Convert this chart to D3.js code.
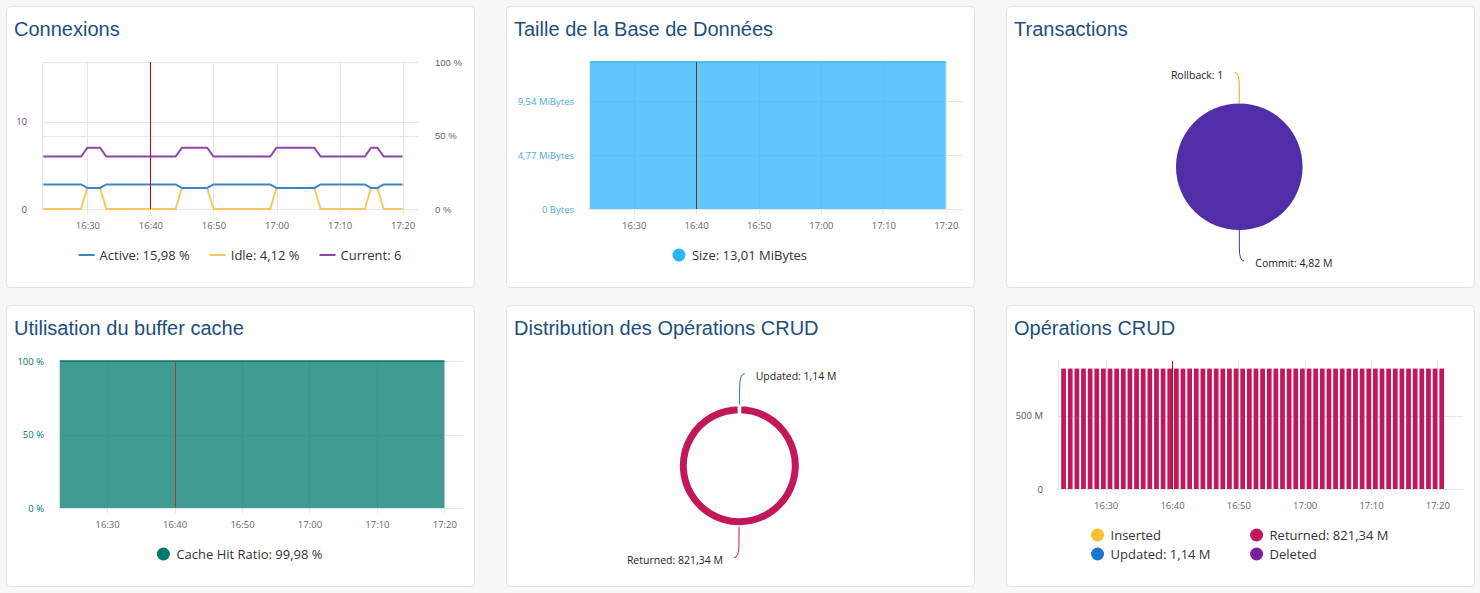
<!DOCTYPE html>
<html>
<head>
<meta charset="utf-8">
<script src="https://cdn.jsdelivr.net/npm/d3@7"></script>
<style>
  body { margin: 0; background: #f7f7f7; }
  svg { display: block; font-family: "Open Sans", sans-serif; }
</style>
</head>
<body>
<svg id="board" width="1480" height="593"></svg>
<script>
// one point per minute, 16:23 -> 17:20
var minutes = [
  "16:23","16:24","16:25","16:26","16:27","16:28","16:29","16:30","16:31","16:32",
  "16:33","16:34","16:35","16:36","16:37","16:38","16:39","16:40","16:41","16:42",
  "16:43","16:44","16:45","16:46","16:47","16:48","16:49","16:50","16:51","16:52",
  "16:53","16:54","16:55","16:56","16:57","16:58","16:59","17:00","17:01","17:02",
  "17:03","17:04","17:05","17:06","17:07","17:08","17:09","17:10","17:11","17:12",
  "17:13","17:14","17:15","17:16","17:17","17:18","17:19","17:20"
];

var currentConn = [
  6,6,6,6,6,6,6,7,7,7,
  6,6,6,6,6,6,6,6,6,6,
  6,6,7,7,7,7,7,6,6,6,
  6,6,6,6,6,6,6,7,7,7,
  7,7,7,7,6,6,6,6,6,6,
  6,6,7,7,6,6,6,6
];
var activePct = [
  16.67,16.67,16.67,16.67,16.67,16.67,16.67,14.29,14.29,14.29,
  16.67,16.67,16.67,16.67,16.67,16.67,16.67,16.67,16.67,16.67,
  16.67,16.67,14.29,14.29,14.29,14.29,14.29,16.67,16.67,16.67,
  16.67,16.67,16.67,16.67,16.67,16.67,16.67,14.29,14.29,14.29,
  14.29,14.29,14.29,14.29,16.67,16.67,16.67,16.67,16.67,16.67,
  16.67,16.67,14.29,14.29,16.67,16.67,16.67,16.67
];
var idlePct = [
  0,0,0,0,0,0,0,14.29,14.29,14.29,
  0,0,0,0,0,0,0,0,0,0,
  0,0,14.29,14.29,14.29,14.29,14.29,0,0,0,
  0,0,0,0,0,0,0,14.29,14.29,14.29,
  14.29,14.29,14.29,14.29,0,0,0,0,0,0,
  0,0,14.29,14.29,0,0,0,0
];

// MiB
var dbSize = [
  13.01,13.01,13.01,13.01,13.01,13.01,13.01,13.01,13.01,13.01,
  13.01,13.01,13.01,13.01,13.01,13.01,13.01,13.01,13.01,13.01,
  13.01,13.01,13.01,13.01,13.01,13.01,13.01,13.01,13.01,13.01,
  13.01,13.01,13.01,13.01,13.01,13.01,13.01,13.01,13.01,13.01,
  13.01,13.01,13.01,13.01,13.01,13.01,13.01,13.01,13.01,13.01,
  13.01,13.01,13.01,13.01,13.01,13.01,13.01,13.01
];

var cacheHit = [
  99.98,99.98,99.98,99.98,99.98,99.98,99.98,99.98,99.98,99.98,
  99.98,99.98,99.98,99.98,99.98,99.98,99.98,99.98,99.98,99.98,
  99.98,99.98,99.98,99.98,99.98,99.98,99.98,99.98,99.98,99.98,
  99.98,99.98,99.98,99.98,99.98,99.98,99.98,99.98,99.98,99.98,
  99.98,99.98,99.98,99.98,99.98,99.98,99.98,99.98,99.98,99.98,
  99.98,99.98,99.98,99.98,99.98,99.98,99.98,99.98
];

// millions of rows returned per minute
var returnedOps = [
  821.3,821.3,821.3,821.3,821.3,821.3,821.3,821.3,821.3,821.3,
  821.3,821.3,821.3,821.3,821.3,821.3,821.3,821.3,821.3,821.3,
  821.3,821.3,821.3,821.3,821.3,821.3,821.3,821.3,821.3,821.3,
  821.3,821.3,821.3,821.3,821.3,821.3,821.3,821.3,821.3,821.3,
  821.3,821.3,821.3,821.3,821.3,821.3,821.3,821.3,821.3,821.3,
  821.3,821.3,821.3,821.3,821.3,821.3,821.3,821.34
];

var txNames = ["Commit", "Rollback"];
var txValues = [4820000, 1];
var txLabels = ["Commit: 4,82 M", "Rollback: 1"];
var txColors = ["#512da8", "#ffa000"];

var crudNames = ["Inserted", "Updated", "Returned", "Deleted"];
var crudTotals = [0, 1.14, 821.34, 0];
var crudLabels = ["Inserted", "Updated: 1,14 M", "Returned: 821,34 M", "Deleted"];
var crudColors = ["#fbc02d", "#1976d2", "#c2185b", "#7b1fa2"];

var connNames = ["Active: 15,98 %", "Idle: 4,12 %", "Current: 6"];
var connColors = ["#3d85c6", "#f6c85f", "#8e44ad"];

var nowMark = "16:40";

var parseT = d3.timeParse("%H:%M");
var fmtT = d3.timeFormat("%H:%M");
var times = minutes.map(parseT);
var now = parseT(nowMark);
var gridCol = "#e6e6e6";
var legendSize = 13;

var svg = d3.select("#board");

function card(x, y, title) {
  var g = svg.append("g");
  g.append("rect").attr("x", x + 0.5).attr("y", y + 0.5).attr("width", 468).attr("height", 281)
    .attr("rx", 4).attr("fill", "#fff").attr("stroke", "#e2e2e2");
  g.append("text").attr("x", x + 8).attr("y", y + 30).text(title)
    .attr("font-family", "Liberation Sans, Arial, sans-serif").attr("font-size", 20).attr("fill", "#1d4f7c");
  return g;
}

// common frame: x grid + bottom axis + left edge
function frame(g, x, y, box, yTicks) {
  var ticks = x.ticks(d3.timeMinute.every(10));
  g.append("g").selectAll("line").data(ticks).enter().append("line")
    .attr("x1", d => Math.round(x(d)) + 0.5).attr("x2", d => Math.round(x(d)) + 0.5)
    .attr("y1", box.t).attr("y2", box.b + 5).attr("stroke", gridCol);
  g.append("g").selectAll("line").data(yTicks).enter().append("line")
    .attr("x1", box.l).attr("x2", box.r)
    .attr("y1", d => Math.round(y(d)) + 0.5).attr("y2", d => Math.round(y(d)) + 0.5)
    .attr("stroke", gridCol);
  g.append("line").attr("x1", box.l + 0.5).attr("x2", box.l + 0.5).attr("y1", box.t).attr("y2", box.b)
    .attr("stroke", gridCol);
  var ax = g.append("g").attr("transform", `translate(0,${box.b})`)
    .call(d3.axisBottom(x).ticks(d3.timeMinute.every(10)).tickFormat(fmtT).tickSize(0).tickPadding(13));
  ax.select(".domain").remove();
  ax.selectAll("text").attr("font-family", "Open Sans").attr("font-size", 9.5).attr("fill", "#666");
}

function leftAxis(g, y, box, vals, fmt, color) {
  var ax = g.append("g").attr("transform", `translate(${box.l},0)`)
    .call(d3.axisLeft(y).tickValues(vals).tickFormat(fmt).tickSize(0).tickPadding(15));
  ax.select(".domain").remove();
  ax.selectAll("text").attr("font-family", "Open Sans").attr("font-size", 9.5).attr("fill", color);
}

function nowLine(g, x, box, color) {
  g.append("line").attr("x1", Math.round(x(now)) + 0.5).attr("x2", Math.round(x(now)) + 0.5)
    .attr("y1", box.t).attr("y2", box.b).attr("stroke", color).attr("stroke-width", 1);
}

// legend laid out from measured text widths, centred on cx
function legend(g, cx, cy, items, kind) {
  var lg = g.append("g");
  var xs = 0;
  items.forEach(function (it) {
    var ig = lg.append("g").attr("transform", `translate(${xs},0)`);
    var tx;
    if (kind === "line") {
      ig.append("line").attr("x1", 0).attr("x2", 16).attr("y1", 0).attr("y2", 0)
        .attr("stroke", it.color).attr("stroke-width", 2);
      tx = 21;
    } else {
      ig.append("circle").attr("cx", 6).attr("cy", 0).attr("r", 6.5).attr("fill", it.color);
      tx = 19;
    }
    var t = ig.append("text").attr("x", tx).attr("y", 0).attr("dy", "0.35em").text(it.label)
      .attr("font-size", legendSize).attr("fill", "#333");
    xs += tx + t.node().getComputedTextLength() + 20;
  });
  var w = xs - 20;
  lg.attr("transform", `translate(${cx - w / 2},${cy})`);
}

// pie / donut with curved leader lines
function pieChart(g, cx, cy, rOut, rIn, values, colors, labels, stroke) {
  var pie = d3.pie().sort(null).value(d => d);
  var arcs = pie(values);
  var arc = d3.arc().innerRadius(rIn).outerRadius(rOut);
  // a slice that is a whole turn but for a hair is drawn as a full turn,
  // otherwise the svg arc has identical end points and vanishes
  var drawArc = function (d) {
    if (d.endAngle - d.startAngle > 2 * Math.PI - 1e-3)
      return arc({ startAngle: d.startAngle, endAngle: d.startAngle + 2 * Math.PI });
    return arc(d);
  };
  var pg = g.append("g").attr("transform", `translate(${cx},${cy})`);
  pg.selectAll("path.slice").data(arcs).enter().append("path").attr("class", "slice")
    .attr("d", drawArc).attr("fill", (d, i) => colors[i])
    .attr("stroke", stroke ? "#fff" : "none").attr("stroke-width", stroke ? 3 : 0);
  var shown = arcs.map((a, i) => ({ a: a, i: i })).filter(d => d.a.value > 0);
  shown.forEach(function (d) {
    var m = (d.a.startAngle + d.a.endAngle) / 2;
    var s = Math.sin(m) >= 0 ? 1 : -1;
    var pt = r => [Math.sin(m) * r, -Math.cos(m) * r];
    var p0 = pt(rOut), p1 = pt(rOut + 18), c = pt(rOut + 31);
    var p2 = [c[0] + s * 5, c[1]];
    pg.append("path").attr("d", `M${p0}L${p1}Q${c} ${p2}`).attr("fill", "none")
      .attr("stroke", colors[d.i]).attr("stroke-width", 1);
    pg.append("text").attr("x", p2[0] + s * 11).attr("y", p2[1] + 2.5).attr("dy", "0.35em")
      .attr("text-anchor", s > 0 ? "start" : "end").attr("font-size", 10.5).attr("fill", "#222")
      .text(labels[d.i]);
  });
}

// ---------- Connexions ----------
(function () {
  var g = card(6, 6, "Connexions");
  var box = { l: 42, r: 419, t: 62, b: 209 };
  var x = d3.scaleTime().domain([d3.timeSecond.offset(parseT("16:22"), 48), d3.timeSecond.offset(parseT("17:22"), 36)]).range([box.l, box.r]);
  var yL = d3.scaleLinear().domain([0, 16.8]).range([box.b, box.t]);
  var yR = d3.scaleLinear().domain([0, 100]).range([box.b, box.t]);
  frame(g, x, yR, box, [0, 50, 100]);
  g.append("g").selectAll("line").data([10]).enter().append("line")
    .attr("x1", box.l).attr("x2", box.r)
    .attr("y1", d => Math.round(yL(d)) + 0.5).attr("y2", d => Math.round(yL(d)) + 0.5).attr("stroke", gridCol);
  leftAxis(g, yL, box, [0, 10], d3.format("d"), "#7b3f8c");
  var axR = g.append("g").attr("transform", `translate(${box.r},0)`)
    .call(d3.axisRight(yR).tickValues([0, 50, 100]).tickFormat(d => d + " %").tickSize(0).tickPadding(16));
  axR.select(".domain").remove();
  axR.selectAll("text").attr("font-size", 9.5).attr("fill", "#666");

  var lineR = d3.line().x((d, i) => x(times[i])).y(d => yR(d));
  var lineL = d3.line().x((d, i) => x(times[i])).y(d => yL(d));
  g.append("path").datum(idlePct).attr("d", lineR).attr("fill", "none").attr("stroke", connColors[1]).attr("stroke-width", 2);
  g.append("path").datum(activePct).attr("d", lineR).attr("fill", "none").attr("stroke", connColors[0]).attr("stroke-width", 2);
  g.append("path").datum(currentConn).attr("d", lineL).attr("fill", "none").attr("stroke", connColors[2]).attr("stroke-width", 2);
  nowLine(g, x, box, "#d40000");
  legend(g, 240, 255, connNames.map((n, i) => ({ label: n, color: connColors[i] })), "line");
})();

// ---------- Taille de la Base de Données ----------
(function () {
  var g = card(506, 6, "Taille de la Base de Données");
  var box = { l: 589, r: 963, t: 62, b: 209 };
  var MiB = 1048576;
  var x = d3.scaleTime().domain([d3.timeSecond.offset(parseT("16:22"), 50), d3.timeSecond.offset(parseT("17:22"), 46)]).range([box.l, box.r]);
  var y = d3.scaleLinear().domain([0, d3.max(dbSize) * MiB]).range([box.b, box.t]);
  var yt = [0, 5e6, 1e7];
  frame(g, x, y, box, yt);
  leftAxis(g, y, box, yt, d => d === 0 ? "0 Bytes" : (d / MiB).toFixed(2).replace(".", ",") + " MiBytes", "#4ba9e0");
  var area = d3.area().x((d, i) => x(times[i])).y0(box.b).y1(d => y(d * MiB));
  g.append("path").datum(dbSize).attr("d", area).attr("fill", "#29b6f6").attr("fill-opacity", 0.75);
  g.append("path").datum(dbSize).attr("d", area.lineY1()).attr("fill", "none").attr("stroke", "#29b6f6").attr("stroke-width", 1.5);
  nowLine(g, x, box, "#8b1e3c");
  legend(g, 740, 255, [{ label: "Size: 13,01 MiBytes", color: "#29b6f6" }], "dot");
})();

// ---------- Transactions ----------
(function () {
  var g = card(1006, 6, "Transactions");
  pieChart(g, 1239.3, 166.7, 63.3, 0, txValues, txColors, txLabels, false);
})();

// ---------- Utilisation du buffer cache ----------
(function () {
  var g = card(6, 305, "Utilisation du buffer cache");
  var box = { l: 59, r: 463, t: 361, b: 508 };
  var x = d3.scaleTime().domain([d3.timeSecond.offset(parseT("16:22"), 52), d3.timeSecond.offset(parseT("17:22"), 46)]).range([box.l, box.r]);
  var y = d3.scaleLinear().domain([0, 100]).range([box.b, box.t]);
  frame(g, x, y, box, [0, 50, 100]);
  leftAxis(g, y, box, [0, 50, 100], d => d + " %", "#00796b");
  var area = d3.area().x((d, i) => x(times[i])).y0(box.b).y1(d => y(d));
  g.append("path").datum(cacheHit).attr("d", area).attr("fill", "#00796b").attr("fill-opacity", 0.75);
  g.append("path").datum(cacheHit).attr("d", area.lineY1()).attr("fill", "none").attr("stroke", "#00796b").attr("stroke-width", 1.5);
  nowLine(g, x, box, "#b23a30");
  legend(g, 240, 554, [{ label: "Cache Hit Ratio: 99,98 %", color: "#00796b" }], "dot");
})();

// ---------- Distribution des Opérations CRUD ----------
(function () {
  var g = card(506, 305, "Distribution des Opérations CRUD");
  pieChart(g, 739.3, 465.7, 61, 51, crudTotals, crudColors, crudLabels, true);
})();

// ---------- Opérations CRUD ----------
(function () {
  var g = card(1006, 305, "Opérations CRUD");
  var box = { l: 1058, r: 1463, t: 361, b: 489 };
  var x = d3.scaleTime().domain([d3.timeSecond.offset(parseT("16:22"), 49), d3.timeSecond.offset(parseT("17:23"), 52)]).range([box.l, box.r]);
  var y = d3.scaleLinear().domain([0, 873]).range([box.b, box.t]);
  frame(g, x, y, box, [0, 500]);
  leftAxis(g, y, box, [0, 500], d => d === 0 ? "0" : d + " M", "#555");
  nowLine(g, x, box, "#d40000");
  g.append("g").selectAll("rect").data(returnedOps).enter().append("rect")
    .attr("x", (d, i) => x(times[i]) + 2)
    .attr("width", (d, i) => x(d3.timeMinute.offset(times[i], 1)) - x(times[i]) - 1.9)
    .attr("y", d => y(d)).attr("height", d => box.b - y(d))
    .attr("fill", crudColors[2]);
  // two-column legend
  var lg = g.append("g");
  var col1 = [0, 1], col2 = [2, 3];
  var c1w = 0;
  col1.forEach(function (k, r) {
    var ig = lg.append("g").attr("transform", `translate(0,${r * 19})`);
    ig.append("circle").attr("cx", 6).attr("r", 6.5).attr("fill", crudColors[k]);
    var t = ig.append("text").attr("x", 19).attr("dy", "0.35em").attr("font-size", legendSize).attr("fill", "#333").text(crudLabels[k]);
    c1w = Math.max(c1w, 19 + t.node().getComputedTextLength());
  });
  var c2w = 0;
  col2.forEach(function (k, r) {
    var ig = lg.append("g").attr("transform", `translate(${c1w + 40},${r * 19})`);
    ig.append("circle").attr("cx", 6).attr("r", 6.5).attr("fill", crudColors[k]);
    var t = ig.append("text").attr("x", 19).attr("dy", "0.35em").attr("font-size", legendSize).attr("fill", "#333").text(crudLabels[k]);
    c2w = Math.max(c2w, 19 + t.node().getComputedTextLength());
  });
  var w = c1w + 40 + c2w;
  lg.attr("transform", `translate(${1240 - w / 2},535)`);
})();
</script>
</body>
</html>
